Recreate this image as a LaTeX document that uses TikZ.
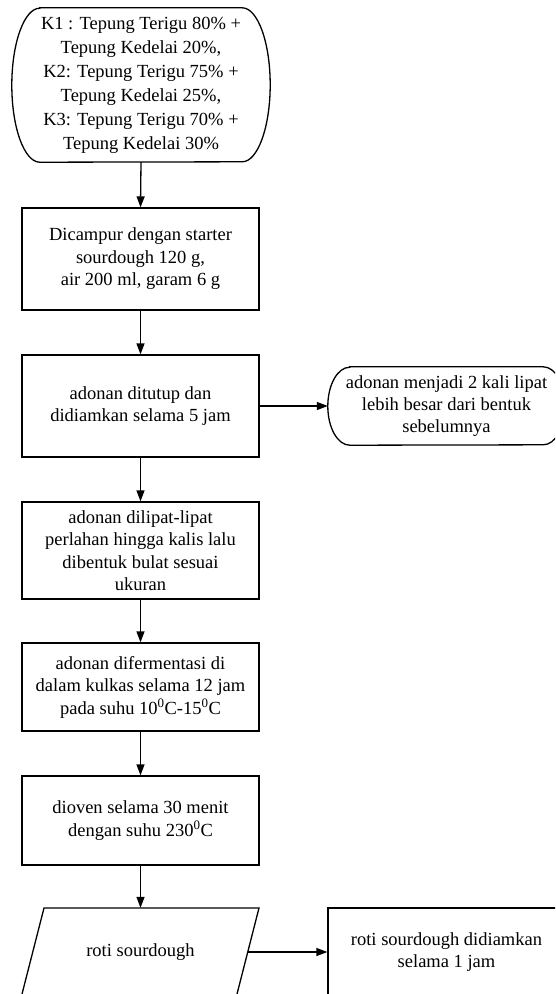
\documentclass[tikz,border=0pt]{standalone}
\usepackage{fontspec}
\setmainfont{Liberation Serif}
\usetikzlibrary{arrows.meta}
\begin{document}
\begin{tikzpicture}[x=1pt,y=-1pt,
  lw/.style={line width=1.3pt},
  txt/.style={align=center, inner sep=0pt, font=\fontsize{18.5}{22.5}\selectfont},
  box/.style={txt, lw, draw, minimum width=237pt},
  term/.style={txt, draw=none},
  arr/.style={lw, -{Triangle[length=11pt,width=8pt]}}
]
\useasboundingbox (0,0) rectangle (555,994);
\clip (0,0) rectangle (555,994);

% top terminator
\node[term, minimum width=258pt, minimum height=154pt, font=\fontsize{18.5}{24}\selectfont] (t) at (141,85)
  {K1 : Tepung Terigu 80\% +\\Tepung Kedelai 20\%,\\K2: Tepung Terigu 75\% +\\Tepung Kedelai 25\%,\\K3: Tepung Terigu 70\% +\\Tepung Kedelai 30\%};
\draw[lw] ([xshift=28pt]t.north west) -- ([xshift=-28pt]t.north east)
  arc[start angle=90, end angle=-90, x radius=28pt, y radius=77pt]
  -- ([xshift=28pt]t.south west)
  arc[start angle=270, end angle=90, x radius=28pt, y radius=77pt] -- cycle;

\node[box, minimum height=102pt] (b2) at (140.5,259) {Dicampur dengan starter\\sourdough 120 g,\\air 200 ml, garam 6 g};
\node[box, minimum height=102pt] (b3) at (140.5,406) {adonan ditutup dan\\didiamkan selama 5 jam};

% side terminator
\node[term, minimum width=237pt, minimum height=78pt, font=\fontsize{18.5}{22}\selectfont] (s) at (446.5,406)
  {adonan menjadi 2 kali lipat\\lebih besar dari bentuk\\sebelumnya};
\draw[lw] ([xshift=22pt]s.north west) -- ([xshift=-22pt]s.north east)
  arc[start angle=90, end angle=-90, x radius=22pt, y radius=39pt]
  -- ([xshift=22pt]s.south west)
  arc[start angle=270, end angle=90, x radius=22pt, y radius=39pt] -- cycle;

\node[box, minimum height=97pt] (b4) at (140.5,550.5) {adonan dilipat-lipat\\perlahan hingga kalis lalu\\dibentuk bulat sesuai\\ukuran};
\node[box, minimum height=88pt] (b5) at (140.5,687) {adonan difermentasi di\\dalam kulkas selama 12 jam\\pada suhu 10\textsuperscript{0}C-15\textsuperscript{0}C};
\node[box, minimum height=89pt] (b6) at (140.5,820.5) {dioven selama 30 menit\\dengan suhu 230\textsuperscript{0}C};

% parallelogram
\node[term, minimum width=200pt, minimum height=88pt] (p) at (140.5,952) {roti sourdough};
\draw[lw] (44,908) -- (259,908) -- (236.5,996) -- (21.5,996) -- cycle;
\coordinate (pe) at (247.75,952);

\node[box, minimum height=88pt] (b7) at (446.5,952) {roti sourdough didiamkan\\selama 1 jam};

\draw[arr] (t.south) -- (b2.north);
\draw[arr] (b2.south) -- (b3.north);
\draw[arr] (b3.east) -- (s.west);
\draw[arr] (b3.south) -- (b4.north);
\draw[arr] (b4.south) -- (b5.north);
\draw[arr] (b5.south) -- (b6.north);
\draw[arr] (b6.south) -- (p.north);
\draw[arr] (pe) -- (b7.west);
\end{tikzpicture}
\end{document}
